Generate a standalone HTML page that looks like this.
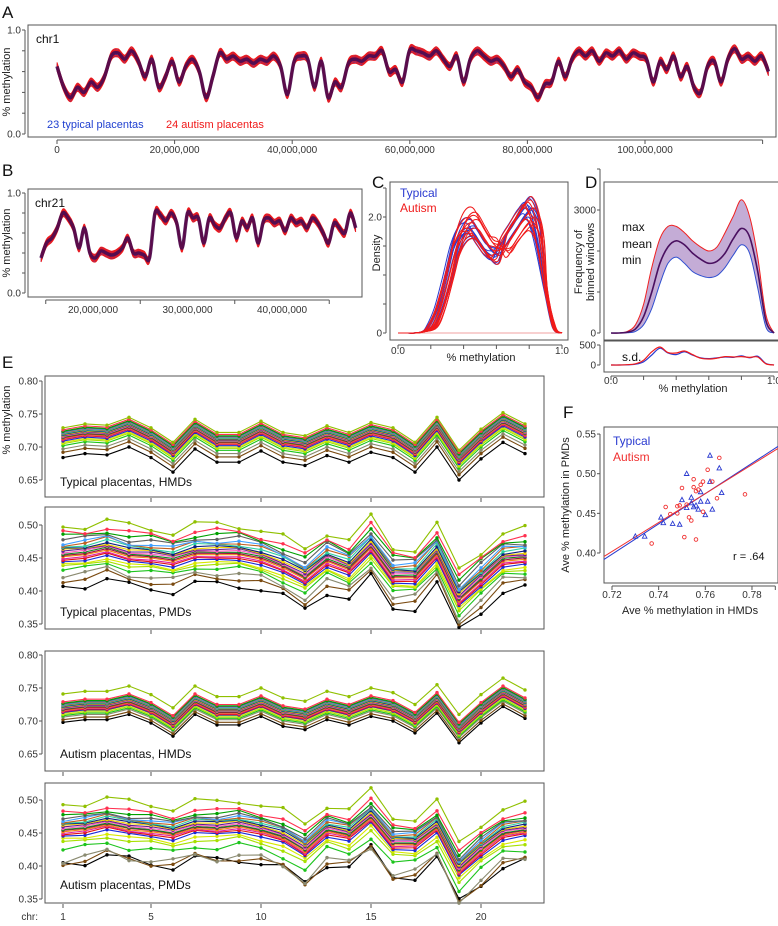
<!DOCTYPE html>
<html><head><meta charset="utf-8"><style>
body{margin:0;background:#fff}
svg{display:block;font-family:"Liberation Sans Narrow","Liberation Sans",sans-serif}
</style></head><body>
<svg id="fig" width="778" height="926" viewBox="0 0 778 926" xmlns="http://www.w3.org/2000/svg">
<g id="root"></g>
</svg>
<script>
// ---------- data ----------
const chr1Profile=[0.65,0.45,0.35,0.45,0.4,0.5,0.45,0.55,0.75,0.78,0.72,0.8,0.7,0.55,0.72,0.45,0.55,0.7,0.5,0.65,0.72,0.6,0.35,0.55,0.78,0.72,0.75,0.7,0.72,0.68,0.72,0.7,0.75,0.65,0.38,0.7,0.75,0.72,0.45,0.7,0.35,0.5,0.45,0.68,0.72,0.7,0.75,0.75,0.8,0.6,0.62,0.5,0.8,0.8,0.78,0.75,0.8,0.72,0.65,0.75,0.5,0.72,0.8,0.75,0.7,0.72,0.65,0.55,0.62,0.5,0.45,0.35,0.48,0.5,0.7,0.55,0.72,0.8,0.75,0.8,0.7,0.78,0.75,0.8,0.72,0.78,0.75,0.72,0.5,0.7,0.62,0.75,0.55,0.65,0.45,0.4,0.65,0.7,0.5,0.72,0.82,0.72,0.75,0.7,0.75,0.6];
const chr1Span=[0,121];
const chr21Profile=[0.35,0.5,0.55,0.65,0.8,0.75,0.65,0.45,0.65,0.4,0.35,0.42,0.4,0.38,0.4,0.45,0.55,0.4,0.4,0.38,0.35,0.8,0.78,0.72,0.8,0.7,0.45,0.8,0.75,0.75,0.5,0.75,0.68,0.65,0.75,0.8,0.55,0.72,0.65,0.75,0.5,0.72,0.75,0.7,0.72,0.62,0.75,0.7,0.72,0.65,0.75,0.7,0.6,0.5,0.7,0.65,0.6,0.8,0.65];
const chr21Span=[14.5,47.8];
const traceOffsetsTypical=[-0.035,-0.022,-0.01,0,0.01,0.02,0.03];
const traceOffsetsAutism=[-0.04,-0.027,-0.014,0.004,0.016,0.027,0.038];
const densityX=[0,0.05,0.1,0.15,0.2,0.25,0.3,0.35,0.4,0.45,0.5,0.55,0.6,0.65,0.7,0.75,0.8,0.85,0.9,0.95,1];
const densityBase=[0,0,0,0.02,0.1,0.4,0.9,1.45,1.75,1.8,1.6,1.4,1.35,1.45,1.65,1.85,1.95,1.6,0.7,0.1,0];
const densityShiftTypical=[-0.03,-0.02,-0.01,0,0.01,0.02,0.0,-0.015,0.015,0.025];
const densityScaleTypical=[1.05,0.95,1.0,1.08,0.92,1.02,0.98,1.1,0.9,1.0];
const densityShiftAutism=[-0.02,-0.01,0,0.01,0.02,0.03,0.035,0.005,-0.025,0.015,0.04,0.025];
const densityScaleAutism=[1.0,1.1,0.95,1.05,0.9,1.15,1.0,1.2,0.97,0.93,1.08,1.12];
const freqMean=[0,0,20,100,400,1000,1700,2100,2250,2150,1950,1800,1700,1750,1950,2300,2550,2350,1500,300,0];
const freqMax=[0,0,40,200,700,1600,2300,2600,2600,2450,2250,2100,2000,2100,2450,2850,3250,2850,1850,450,0];
const freqMin=[0,0,5,40,200,600,1200,1700,1850,1700,1500,1400,1350,1400,1600,1900,2150,1950,1100,150,0];
const sdTypical=[0,0,5,20,80,250,420,300,260,330,250,180,160,180,200,190,230,180,220,40,0];
const sdAutism=[0,0,8,30,120,330,450,310,300,350,260,170,150,170,210,200,210,190,200,30,0];
const chromosomes=[1,2,3,4,5,6,7,8,9,10,11,12,13,14,15,16,17,18,19,20,21,22];
const typHMD=[0.712,0.718,0.716,0.728,0.712,0.690,0.725,0.705,0.705,0.722,0.705,0.700,0.715,0.705,0.720,0.712,0.690,0.728,0.678,0.710,0.735,0.718];
const typPMD=[0.452,0.455,0.462,0.452,0.450,0.445,0.455,0.455,0.455,0.448,0.435,0.418,0.445,0.432,0.465,0.420,0.420,0.455,0.385,0.415,0.445,0.448];
const autHMD=[0.716,0.720,0.720,0.728,0.715,0.695,0.728,0.712,0.712,0.725,0.710,0.705,0.720,0.712,0.725,0.718,0.700,0.730,0.685,0.715,0.740,0.722];
const autPMD=[0.455,0.458,0.465,0.458,0.455,0.450,0.460,0.458,0.462,0.455,0.445,0.425,0.455,0.448,0.475,0.435,0.435,0.460,0.395,0.425,0.450,0.455];
const typHMDoffsets=[-0.028,-0.02,-0.015,-0.01,-0.007,-0.005,-0.003,-0.001,0,0.001,0.002,0.003,0.004,0.005,0.006,0.007,0.008,0.009,0.01,0.011,0.012,0.014,0.017];
const typPMDoffsets=[-0.045,-0.035,-0.028,-0.02,-0.015,-0.012,-0.008,-0.005,-0.003,0,0.002,0.004,0.006,0.008,0.01,0.012,0.015,0.018,0.02,0.025,0.03,0.035,0.045];
const autHMDoffsets=[-0.018,-0.014,-0.01,-0.008,-0.006,-0.004,-0.003,-0.002,-0.001,0,0.001,0.002,0.003,0.004,0.005,0.006,0.007,0.008,0.009,0.01,0.011,0.013,0.025];
const autPMDoffsets=[-0.05,-0.048,-0.045,-0.03,-0.02,-0.015,-0.01,-0.007,-0.005,-0.003,-0.001,0,0.002,0.004,0.006,0.008,0.01,0.012,0.014,0.016,0.02,0.025,0.038];
const typScatterX=[0.730,0.734,0.741,0.742,0.746,0.749,0.750,0.752,0.752,0.754,0.754,0.755,0.756,0.757,0.758,0.758,0.760,0.761,0.762,0.762,0.763,0.766,0.767];
const typScatterY=[0.421,0.421,0.445,0.438,0.437,0.436,0.467,0.500,0.457,0.470,0.463,0.458,0.460,0.455,0.465,0.477,0.448,0.465,0.523,0.490,0.455,0.507,0.476];
const autScatterX=[0.737,0.743,0.745,0.748,0.749,0.750,0.751,0.752,0.754,0.755,0.755,0.756,0.756,0.757,0.759,0.759,0.761,0.763,0.765,0.766,0.777,0.753,0.748,0.758];
const autScatterY=[0.412,0.458,0.449,0.459,0.460,0.482,0.420,0.461,0.441,0.493,0.483,0.478,0.417,0.480,0.490,0.452,0.505,0.490,0.469,0.520,0.474,0.445,0.450,0.486];
const palette=["#000","#7a4a10","#8a8a70","#1cc41c","#a8e000","#d8e800","#1a2ad8","#e01010","#e020a0","#f08a10","#a01040","#108a20","#ff60c0","#602090","#f0d000","#102080","#30d0a0","#c06020","#40a0ff","#606060","#00a000","#ff3050","#90c000"];

// ---------- helpers ----------
const NS="http://www.w3.org/2000/svg";
const root=document.getElementById('root');
function el(tag,attrs,parent){const e=document.createElementNS(NS,tag);for(const k in attrs)e.setAttribute(k,attrs[k]);(parent||root).appendChild(e);return e;}
function txt(x,y,s,size,anchor,fill,parent,extra){const t=el('text',Object.assign({x:x,y:y,'font-size':size,'text-anchor':anchor||'start',fill:fill||'#222'},extra||{}),parent);t.textContent=s;return t;}
function smooth(pts){let d='M'+pts[0][0].toFixed(1)+','+pts[0][1].toFixed(1);for(let i=0;i<pts.length-1;i++){const p0=pts[i-1]||pts[i],p1=pts[i],p2=pts[i+1],p3=pts[i+2]||p2;const c1=[p1[0]+(p2[0]-p0[0])/6,p1[1]+(p2[1]-p0[1])/6],c2=[p2[0]-(p3[0]-p1[0])/6,p2[1]-(p3[1]-p1[1])/6];d+='C'+c1[0].toFixed(1)+','+c1[1].toFixed(1)+' '+c2[0].toFixed(1)+','+c2[1].toFixed(1)+' '+p2[0].toFixed(1)+','+p2[1].toFixed(1);}return d;}
function box(x1,y1,x2,y2,name){const r=el('rect',{x:x1,y:y1,width:x2-x1,height:y2-y1,fill:'none',stroke:'#555','stroke-width':1});return r;}
function yaxis(x,ticks,yfn,labels,size){const g=el('g',{});const ys=ticks.map(yfn);el('line',{x1:x,x2:x,y1:Math.min(...ys),y2:Math.max(...ys),stroke:'#555'},g);ticks.forEach((t,i)=>{el('line',{x1:x-3,x2:x,y1:ys[i],y2:ys[i],stroke:'#555'},g);if(labels[i]!=='')txt(x-4,ys[i]+3.5,labels[i],size||10,'end','#333',g);});return g;}
function xaxis(y,ticks,xfn,labels,size,ly,noLine){const g=el('g',{});const xs=ticks.map(xfn);if(!noLine)el('line',{x1:Math.min(...xs),x2:Math.max(...xs),y1:y,y2:y,stroke:'#555'},g);ticks.forEach((t,i)=>{el('line',{x1:xs[i],x2:xs[i],y1:y,y2:y+4,stroke:'#555'},g);if(labels[i]!=='')txt(xs[i],ly||y+13,labels[i],size||10,'middle','#333',g);});return g;}
function panelLabel(x,y,s){const t=txt(x,y,s,17,'start','#111');}

// ---------- Panel A ----------
panelLabel(2,18,'A');
box(28,25,776,137,'chr1-plot-frame');
const xA=m=>57+5.88*m, yA=v=>134-104*v;
yaxis(25,[0,0.2,0.4,0.6,0.8,1.0],yA,['0.0','','','','','1.0']);
xaxis(140,[0,20,40,60,80,100,120],xA,['0','20,000,000','40,000,000','60,000,000','80,000,000','100,000,000',''],10,153);
txt(10,82,'% methylation',11,'middle','#222',null,{transform:'rotate(-90 10 82)'});
function traces(profile,span,xf,yf,gname){const g=el('g',{});const n=profile.length;const pos=profile.map((v,i)=>span[0]+(span[1]-span[0])*i/(n-1));
 traceOffsetsTypical.forEach(o=>{const p=el('path',{d:smooth(profile.map((v,i)=>[xf(pos[i]),yf(v+o)])),fill:'none',stroke:'#2040d0','stroke-width':1},g);});
 traceOffsetsAutism.forEach(o=>{const p=el('path',{d:smooth(profile.map((v,i)=>[xf(pos[i]),yf(v+o)])),fill:'none',stroke:'#f01818','stroke-width':1},g);});
 const c=el('path',{d:smooth(profile.map((v,i)=>[xf(pos[i]),yf(v)])),fill:'none',stroke:'#4a0a50','stroke-width':3.5,'stroke-opacity':0.9},g);}
traces(chr1Profile,chr1Span,xA,yA,'chr1-traces');
let t=txt(36,43,'chr1',12,'start','#111');
t=txt(47,128,'23 typical placentas',11,'start','#2040d0');
t=txt(166,128,'24 autism placentas',11,'start','#f01818');

// ---------- Panel B ----------
panelLabel(2,176,'B');
box(28,189,362,297,'chr21-plot-frame');
const xB=m=>93+(m-20)*9.45, yB=v=>293-100*v;
yaxis(25,[0,0.2,0.4,0.6,0.8,1.0],yB,['0.0','','','','','1.0']);
xaxis(300,[15,25,35,45],xB,['','','',''],10);
[20,30,40].forEach((m,i)=>txt(xB(m),313,['20,000,000','30,000,000','40,000,000'][i],10,'middle','#333'));
txt(10,243,'% methylation',11,'middle','#222',null,{transform:'rotate(-90 10 243)'});
traces(chr21Profile,chr21Span,xB,yB,'chr21-traces');
t=txt(35,207,'chr21',12,'start','#111');

// ---------- Panel C ----------
panelLabel(372,188,'C');
box(390,182,568,340,'density-plot-frame');
const xC=v=>398+164*v, yC=v=>333-58*v;
yaxis(386,[0,0.5,1,1.5,2,2.5],yC,['0','','','','2.0','']);
xaxis(345,[0,0.2,0.4,0.6,0.8,1.0],xC,['','','','','',''],10);
txt(xC(0),354,'0.0',10,'middle','#333');txt(xC(1),354,'1.0',10,'middle','#333');
txt(481,361,'% methylation',11,'middle','#222');
txt(380,253,'Density',11,'middle','#222',null,{transform:'rotate(-90 380 253)'});
el('line',{x1:xC(0),x2:xC(1),y1:yC(0),y2:yC(0),stroke:'#f0a0a0'});
function densCurve(shift,scale,color,name){const pts=densityX.map((x,i)=>{let v=densityBase[i];if(i>=5&&i<=12)v*=scale;else if(i>12&&i<19)v*=(2.1-scale);return [xC(Math.min(1,Math.max(0,x+shift*(i>3&&i<18?1:0.3)))),yC(v)];});const p=el('path',{d:smooth(pts),fill:'none',stroke:color,'stroke-width':1});}
densityShiftTypical.forEach((s,i)=>densCurve(s,densityScaleTypical[i],'#2a3ad0','density-typical'));
densityShiftAutism.forEach((s,i)=>densCurve(s,densityScaleAutism[i],'#f01a1a','density-autism'));
t=txt(400,197,'Typical',12,'start','#2a3ad0');
t=txt(400,212,'Autism',12,'start','#f01a1a');

// ---------- Panel D ----------
panelLabel(585,188,'D');
box(604,182,780,340,'frequency-plot-frame');
box(604,341,780,372,'sd-plot-frame');
const xD=v=>611+163*v, yD=v=>333-0.041*v, ySD=v=>365-0.04*v;
yaxis(600,[0,1000,2000,3000,4000],yD,['0','','','3000','']);
yaxis(600,[0,500],ySD,['0','500']);
xaxis(376,[0,0.2,0.4,0.6,0.8,1.0],xD,['','','','','',''],10);
txt(xD(0),384,'0.0',10,'middle','#333');txt(xD(1),384,'1.0',10,'middle','#333');
txt(693,392,'% methylation',11,'middle','#222');
txt(582,262,'Frequency of',11,'middle','#222',null,{transform:'rotate(-90 582 262)'});
txt(594,262,'binned windows',11,'middle','#222',null,{transform:'rotate(-90 594 262)'});
const bandTop=densityX.map((x,i)=>[xD(x),yD(freqMax[i])]);
const bandBot=densityX.map((x,i)=>[xD(x),yD(freqMin[i])]).reverse();
let bp=el('path',{d:smooth(bandTop)+'L'+smooth(bandBot).slice(1)+'Z',fill:'#b090c8','fill-opacity':0.75,stroke:'none'});
[[freqMax,'#f02020','max-line'],[freqMin,'#3050d0','min-line'],[freqMean,'#4a1060','mean-line']].forEach(([arr,c,n])=>{const p=el('path',{d:smooth(densityX.map((x,i)=>[xD(x),yD(arr[i])])),fill:'none',stroke:c,'stroke-width':n==='mean-line'?1.6:1});});
[[sdTypical,'#2a3ad0','sd-typical'],[sdAutism,'#f01a1a','sd-autism']].forEach(([arr,c,n])=>{const p=el('path',{d:smooth(densityX.map((x,i)=>[xD(x),ySD(arr[i])])),fill:'none',stroke:c,'stroke-width':1.2});});
txt(622,231,'max',12,'start','#111');txt(622,248,'mean',12,'start','#111');txt(622,264,'min',12,'start','#111');
txt(622,361,'s.d.',12,'start','#111');

// ---------- Panel E ----------
panelLabel(2,368,'E');
const xE=c=>63+(c-1)*22;
function ePanel(y1,y2,top,ticks,mean,offs,title,name){
 box(45,y1,544,y2,name+'-frame');
 const yf=v=>(top[1])+(top[0]-v)*660;
 yaxis(42,ticks,yf,ticks.map(v=>v.toFixed(2)));
 const g=el('g',{});
 offs.forEach((o,s)=>{const col=palette[s%palette.length];const pts=chromosomes.map((c,i)=>[xE(c),yf(mean[i]+o*(mean[i]<0.6?1+0.15*Math.sin(i*1.7+s):1))]);
  const pl=el('polyline',{points:pts.map(p=>p.join(',')).join(' '),fill:'none',stroke:col,'stroke-width':1.1},g);
  pts.forEach(p=>{const c=el('circle',{cx:p[0],cy:p[1],r:1.7,fill:col},g);});});
 const tt=txt(60,title[1],title[0],12,'start','#111');
}
ePanel(376,497,[0.80,381],[0.80,0.75,0.70,0.65],typHMD,typHMDoffsets,['Typical placentas, HMDs',486],'typical-hmd');
xaxis(498,[5,10,15,20],xE,['','','',''],10,null,true);
txt(10,420,'% methylation',11,'middle','#222',null,{transform:'rotate(-90 10 420)'});
ePanel(507,629,[0.50,525],[0.50,0.45,0.40,0.35],typPMD,typPMDoffsets,['Typical placentas, PMDs',616],'typical-pmd');
xaxis(630,[5,10,15,20],xE,['','','',''],10,null,true);
ePanel(651,771,[0.80,655],[0.80,0.75,0.70,0.65],autHMD,autHMDoffsets,['Autism placentas, HMDs',758],'autism-hmd');
xaxis(772,[1,5,10,15,20],xE,['','','','',''],10,null,true);
ePanel(783,903,[0.50,800],[0.50,0.45,0.40,0.35],autPMD,autPMDoffsets,['Autism placentas, PMDs',889],'autism-pmd');
xaxis(904,[1,5,10,15,20],xE,['1','5','10','15','20'],10,920,true);
txt(38,920,'chr:',10,'end','#333');

// ---------- Panel F ----------
panelLabel(563,418,'F');
box(604,427,778,583,'scatter-frame');
const xF=v=>612+(v-0.72)*2333, yF=v=>553-(v-0.40)*793;
yaxis(600,[0.40,0.45,0.50,0.55],yF,['0.40','0.45','0.50','0.55']);
xaxis(586,[0.72,0.74,0.76,0.78,0.79],xF,['0.72','0.74','0.76','0.78',''],10,598);
txt(690,614,'Ave % methylation in HMDs',11,'middle','#222');
txt(569,505,'Ave % methylation in PMDs',11,'middle','#222',null,{transform:'rotate(-90 569 505)'});
function fit(xs,ys){const n=xs.length,mx=xs.reduce((a,b)=>a+b)/n,my=ys.reduce((a,b)=>a+b)/n;let sxy=0,sxx=0;xs.forEach((x,i)=>{sxy+=(x-mx)*(ys[i]-my);sxx+=(x-mx)*(x-mx);});const b=sxy/sxx;return [b,my-b*mx];}
[[typScatterX,typScatterY,'#2a3ad0','fit-typical'],[autScatterX,autScatterY,'#f03030','fit-autism']].forEach(([xs,ys,c,n])=>{const [b,a]=fit(xs,ys);const x0=0.7165,x1=0.7915;const l=el('line',{x1:xF(x0),y1:yF(a+b*x0),x2:xF(x1),y2:yF(a+b*x1),stroke:c,'stroke-width':1});});
typScatterX.forEach((x,i)=>{const cx=xF(x),cy=yF(typScatterY[i]);const p=el('polygon',{points:`${cx},${cy-2.5} ${cx-2.3},${cy+1.8} ${cx+2.3},${cy+1.8}`,fill:'none',stroke:'#2a3ad0','stroke-width':0.9});});
autScatterX.forEach((x,i)=>{const c=el('circle',{cx:xF(x),cy:yF(autScatterY[i]),r:1.8,fill:'none',stroke:'#f03030','stroke-width':0.9});});
t=txt(613,445,'Typical',12,'start','#2a3ad0');
t=txt(613,461,'Autism',12,'start','#f03030');
t=txt(733,560,'r = .64',11,'start','#111');
</script>
</body></html>
